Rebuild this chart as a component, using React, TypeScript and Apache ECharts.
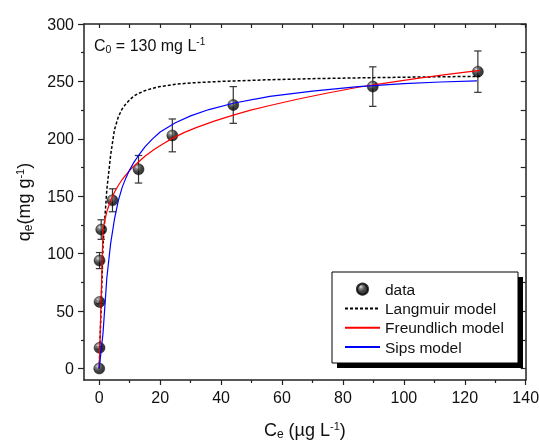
import React, { useEffect, useRef } from 'react';
import * as echarts from 'echarts';

// ---- data ----
const dataCe = [0, 0.1, 0.1, 0.1, 0.65, 4.35, 12.9, 24, 44, 89.8, 124.3];
const dataQe = [0, 18, 58, 94, 121, 146.5, 173.5, 203, 229.5, 245.5, 258.5];
const dataErr = [0, 1, 1.5, 7, 8.5, 10, 12, 14.3, 16, 17.2, 18];

const langmuirCe = [0, 1.25, 2.5, 3.75, 5, 6.25, 7.5, 8.75, 10, 11.25, 12.5, 15, 17.5, 20, 25, 30, 40, 55, 70, 90, 110, 125];
const langmuirQe = [0, 108, 156, 186, 208, 219, 226, 230.5, 234, 237, 239, 242, 244, 245.5, 247.5, 248.7, 250, 251.4, 252.4, 253.3, 254, 254.4];

const freundCe = [0, 1.25, 2.5, 3.75, 5, 6.25, 7.5, 8.75, 10, 11.25, 12.5, 15, 18, 21, 24, 28, 32, 38, 44, 50, 56, 65, 75, 85, 95, 105, 115, 125];
const freundQe = [0, 121.7, 136.7, 146.3, 153.5, 159.4, 164.4, 168.7, 172.5, 176, 179, 184.8, 190.7, 195.8, 200.4, 205.6, 210, 215.6, 220.7, 225.2, 229, 234.5, 239.9, 244.9, 248.9, 252.8, 256.3, 259.7];

const sipsCe = [0, 1.25, 2.5, 3.75, 5, 6.25, 7.5, 8.75, 10, 11.25, 12.5, 15, 17.5, 20, 25, 30, 36, 44, 56, 70, 85, 100, 112, 124];
const sipsQe = [0, 31, 79, 109, 130, 146, 157.5, 166, 173, 179, 184, 193, 200, 206, 214, 220, 225.5, 231, 237, 241.5, 245.5, 248, 249.5, 250.5];

const xMajor = [0, 20, 40, 60, 80, 100, 120, 140];
const xMinor = [10, 30, 50, 70, 90, 110, 130];
const xTop = [0, 10, 20, 30, 40, 50, 60, 70, 80, 90, 100, 110, 120, 130, 140];
const yMajor = [0, 50, 100, 150, 200, 250, 300];
const yMinor = [25, 75, 125, 175, 225, 275];
const yRight = [0, 25, 50, 75, 100, 125, 150, 175, 200, 225, 250, 275, 300];

const legendNames = ['data', 'Langmuir model', 'Freundlich model', 'Sips model'];

const FONT = 'Liberation Sans, Arial, sans-serif';
const AX = '#222';

const zip = (a: number[], b: number[]) => a.map((v, i) => [v, b[i]]);

export default function App() {
  const ref = useRef<HTMLDivElement>(null);
  useEffect(() => {
    if (!ref.current) return;
    const chart = echarts.init(ref.current, undefined, { renderer: 'svg' });
    const sphere = new echarts.graphic.RadialGradient(0.35, 0.3, 0.75, [
      { offset: 0, color: '#e0e0e0' },
      { offset: 0.22, color: '#6a6a6a' },
      { offset: 0.55, color: '#161616' },
      { offset: 1, color: '#000' },
    ]);
    const minorAxisX = (vals: number[], pos: string, len: number, inside: boolean, line: boolean) => ({
      type: 'value', min: -5, max: 140, position: pos,
      axisLine: { show: line, onZero: false, lineStyle: { color: AX, width: 1.5 } },
      axisTick: { show: true, customValues: vals, length: len, inside, lineStyle: { color: AX, width: 1.2 } },
      axisLabel: { show: false }, splitLine: { show: false },
    });
    const minorAxisY = (vals: number[], pos: string, len: number, inside: boolean, line: boolean) => ({
      type: 'value', min: -10, max: 300, position: pos,
      axisLine: { show: line, onZero: false, lineStyle: { color: AX, width: 1.5 } },
      axisTick: { show: true, customValues: vals, length: len, inside, lineStyle: { color: AX, width: 1.2 } },
      axisLabel: { show: false }, splitLine: { show: false },
    });
    const nameRich = {
      a: { fontSize: 18, fontFamily: FONT, color: '#111', lineHeight: 20 },
      sub: { fontSize: 12, fontFamily: FONT, color: '#111', lineHeight: 12, verticalAlign: 'bottom' },
      sup: { fontSize: 11, fontFamily: FONT, color: '#111', lineHeight: 11, verticalAlign: 'top' },
    };
    const hideSym = { color: 'rgba(0,0,0,0)', borderWidth: 0, opacity: 0 };
    chart.setOption({
      animation: false,
      grid: { left: 84, right: 13.3, top: 24, bottom: 62, containLabel: false, outerBoundsMode: 'none' },
      legend: {
        data: [
          { name: legendNames[0] },
          { name: legendNames[1], itemStyle: hideSym },
          { name: legendNames[2], itemStyle: hideSym },
          { name: legendNames[3], itemStyle: hideSym },
        ],
        orient: 'vertical',
        left: 344, top: 279.5,
        padding: 0,
        itemWidth: 35, itemHeight: 11, itemGap: 0,
        textStyle: { fontSize: 15.5, fontFamily: FONT, color: '#111', lineHeight: 19.3 },
        z: 20,
      },
      graphic: [
        { type: 'rect', z: 10, shape: { x: 337, y: 277, width: 186, height: 91 }, style: { fill: '#000' } },
        { type: 'rect', z: 11, shape: { x: 332, y: 272, width: 186, height: 91 }, style: { fill: '#fff', stroke: '#000', lineWidth: 1 } },
        {
          type: 'text', z: 12, x: 94, y: 36,
          style: {
            text: '{a|C}{sub|0}{a| = 130 mg L}{sup|-1}',
            rich: {
              a: { fontSize: 16, fontFamily: FONT, fill: '#111', lineHeight: 18 },
              sub: { fontSize: 10.5, fontFamily: FONT, fill: '#111', lineHeight: 10, verticalAlign: 'bottom' },
              sup: { fontSize: 10, fontFamily: FONT, fill: '#111', lineHeight: 10, verticalAlign: 'top' },
            },
          },
        },
      ],
      xAxis: [
        {
          type: 'value', min: -5, max: 140, position: 'bottom',
          axisLine: { onZero: false, lineStyle: { color: AX, width: 1.5 } },
          axisTick: { show: true, customValues: xMajor, length: 5, lineStyle: { color: AX, width: 1.2 } },
          axisLabel: { customValues: xMajor, fontSize: 16, fontFamily: FONT, color: '#111', margin: 9 },
          splitLine: { show: false },
          name: '{a|C}{sub|e}{a| (µg L}{sup|-1}{a|)}',
          nameLocation: 'middle', nameGap: 40,
          nameTextStyle: { rich: nameRich },
        },
        minorAxisX(xMinor, 'bottom', 3, false, false),
        minorAxisX(xTop, 'top', 4, true, true),
      ],
      yAxis: [
        {
          type: 'value', min: -10, max: 300, position: 'left',
          axisLine: { onZero: false, lineStyle: { color: AX, width: 1.5 } },
          axisTick: { show: true, customValues: yMajor, length: 6, lineStyle: { color: AX, width: 1.2 } },
          axisLabel: { customValues: yMajor, fontSize: 16, fontFamily: FONT, color: '#111', margin: 10 },
          splitLine: { show: false },
          name: '{a|q}{sub|e}{a|(mg g}{sup|-1}{a|)}',
          nameLocation: 'middle', nameGap: 50, nameRotate: 90,
          nameTextStyle: { rich: nameRich },
        },
        minorAxisY(yMinor, 'left', 3, false, false),
        minorAxisY(yRight, 'right', 5, true, true),
      ],
      series: [
        {
          type: 'custom', name: 'err', z: 1, silent: true,
          data: dataCe.map((c, i) => [c, dataQe[i], dataErr[i]]),
          renderItem: (params: any, api: any) => {
            const x = api.value(0), y = api.value(1), e = api.value(2);
            if (!e) return { type: 'group', children: [] };
            const t = api.coord([x, y + e]);
            const b = api.coord([x, y - e]);
            const hw = 3.7;
            const st = { stroke: '#333', lineWidth: 1.2 };
            return {
              type: 'group',
              children: [
                { type: 'line', shape: { x1: t[0], y1: t[1], x2: b[0], y2: b[1] }, style: st },
                { type: 'line', shape: { x1: t[0] - hw, y1: t[1], x2: t[0] + hw, y2: t[1] }, style: st },
                { type: 'line', shape: { x1: b[0] - hw, y1: b[1], x2: b[0] + hw, y2: b[1] }, style: st },
              ],
            };
          },
        },
        {
          type: 'scatter', name: 'data', z: 2,
          data: zip(dataCe, dataQe),
          symbol: 'circle', symbolSize: 11,
          itemStyle: { color: sphere, borderColor: '#000', borderWidth: 0.5 },
        },
        {
          type: 'line', name: 'Langmuir model', z: 3,
          data: zip(langmuirCe, langmuirQe),
          symbol: 'none', showSymbol: false, smooth: false,
          lineStyle: { color: '#000', width: 1.5, type: [3, 2] },
          itemStyle: { color: '#000' },
        },
        {
          type: 'line', name: 'Freundlich model', z: 3,
          data: zip(freundCe, freundQe),
          symbol: 'none', showSymbol: false, smooth: false,
          lineStyle: { color: '#ff0000', width: 1.2 },
          itemStyle: { color: '#ff0000' },
        },
        {
          type: 'line', name: 'Sips model', z: 3,
          data: zip(sipsCe, sipsQe),
          symbol: 'none', showSymbol: false, smooth: false,
          lineStyle: { color: '#0000ff', width: 1.2 },
          itemStyle: { color: '#0000ff' },
        },
      ],
    });
    return () => chart.dispose();
  }, []);
  return <div ref={ref} style={{ position: 'fixed', left: 0, top: 0, width: 539, height: 442 }} />;
}
